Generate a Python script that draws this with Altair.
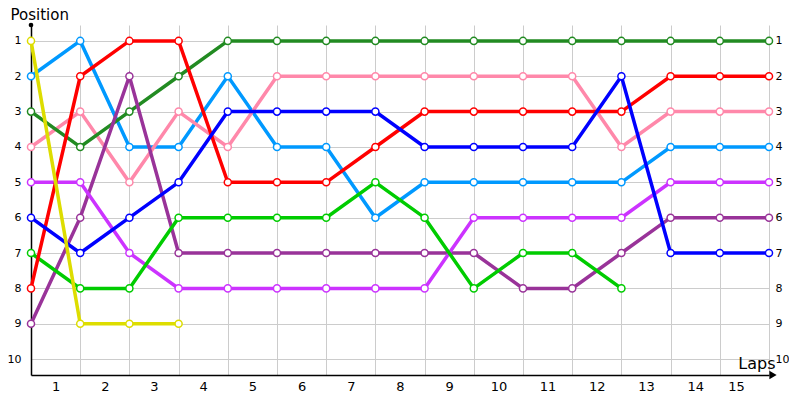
import altair as alt
import pandas as pd

laps = list(range(0, 16))

drivers = ["Blue Light", "Pink", "Dark Green", "Purple", "Magenta", "Green", "Red", "Blue", "Yellow"]
colors = ["#0099FF", "#FF88AA", "#228B22", "#993399", "#CC33FF", "#00CC00", "#FF0000", "#0000FF", "#DDDD00"]

light_blue = [2, 1, 4, 4, 2, 4, 4, 6, 5, 5, 5, 5, 5, 4, 4, 4]
pink = [4, 3, 5, 3, 4, 2, 2, 2, 2, 2, 2, 2, 4, 3, 3, 3]
dark_green = [3, 4, 3, 2, 1, 1, 1, 1, 1, 1, 1, 1, 1, 1, 1, 1]
purple = [9, 6, 2, 7, 7, 7, 7, 7, 7, 7, 8, 8, 7, 6, 6, 6]
magenta = [5, 5, 7, 8, 8, 8, 8, 8, 8, 6, 6, 6, 6, 5, 5, 5]
green = [7, 8, 8, 6, 6, 6, 6, 5, 6, 8, 7, 7, 8]
red = [8, 2, 1, 1, 5, 5, 5, 4, 3, 3, 3, 3, 3, 2, 2, 2]
blue = [6, 7, 6, 5, 3, 3, 3, 3, 4, 4, 4, 4, 2, 7, 7, 7]
yellow = [1, 9, 9, 9]

series = [light_blue, pink, dark_green, purple, magenta, green, red, blue, yellow]

y_ticks = list(range(1, 11))

rows = []
for i, (name, vals) in enumerate(zip(drivers, series)):
    for lap, pos in zip(laps, vals):
        rows.append({"driver": name, "lap": lap, "pos": pos, "order": i})
df = pd.DataFrame(rows)

W, H = 738, 350
FONT = "DejaVu Sans"

x_scale = alt.Scale(domain=[0, 15], nice=False, zero=False)
y_scale = alt.Scale(domain=[0.55, 10.45], reverse=True, nice=False, zero=False)
color_scale = alt.Scale(domain=drivers, range=colors)

x_axis = alt.Axis(
    values=laps, grid=True, gridColor="#cccccc", gridWidth=1, ticks=False,
    domain=True, domainColor="black", domainWidth=1.5,
    labelExpr="datum.value == 0 ? '' : datum.value", labelOffset=-24.6,
    labelFontSize=13, labelColor="black", labelPadding=5, labelFont=FONT,
    title="Laps", titleFont=FONT, titleFontSize=16, titleFontWeight="normal",
    titleColor="black", titleAnchor="end", titleAlign="right", titleBaseline="bottom",
    titleX=W + 6, titleY=-4,
)

y_axis_left = alt.Axis(
    values=y_ticks, grid=True, gridColor="#cccccc", gridWidth=1, ticks=False,
    domain=True, domainColor="black", domainWidth=1.5,
    labelFontSize=11, labelColor="black", labelPadding=10, labelFont=FONT,
    title="Position", titleAngle=0, titleFont=FONT, titleFontSize=15,
    titleFontWeight="normal", titleColor="black", titleAlign="left",
    titleBaseline="bottom", titleX=-21, titleY=-3,
)

y_axis_right = alt.Axis(
    orient="right", values=y_ticks, grid=False, ticks=False, domain=False,
    labelFontSize=11, labelColor="black", labelPadding=6, labelFont=FONT,
    title="",
)

lines = alt.Chart(df).mark_line(strokeWidth=3.5).encode(
    x=alt.X("lap:Q", scale=x_scale, axis=x_axis),
    y=alt.Y("pos:Q", scale=y_scale, axis=y_axis_left),
    color=alt.Color("driver:N", scale=color_scale, legend=None),
    order=alt.Order("lap:Q"),
)

points = alt.Chart(df).mark_point(
    filled=False, fill="white", fillOpacity=1, size=50, strokeWidth=1.5, opacity=1
).encode(
    x=alt.X("lap:Q", scale=x_scale, axis=x_axis),
    y=alt.Y("pos:Q", scale=y_scale, axis=y_axis_right),
    stroke=alt.Stroke("driver:N", scale=color_scale, legend=None),
)

one = pd.DataFrame({"a": [0]})
top_dot = alt.Chart(one).mark_circle(size=22, color="black", opacity=1).encode(
    x=alt.value(0), y=alt.value(0)
)
arrow = alt.Chart(one).mark_point(
    shape="triangle-right", filled=True, size=70, color="black", opacity=1
).encode(x=alt.value(W + 4), y=alt.value(H))

chart = (
    alt.layer(lines, points, top_dot, arrow)
    .resolve_axis(y="independent")
    .properties(
        width=W, height=H,
        autosize=alt.AutoSizeParams(type="none"),
        padding={"left": 23, "top": 17, "right": 20, "bottom": 17},
        background="white",
    )
    .configure_view(stroke=None)
)

chart.save("out.html", embed_options={"renderer": "svg", "actions": False})
